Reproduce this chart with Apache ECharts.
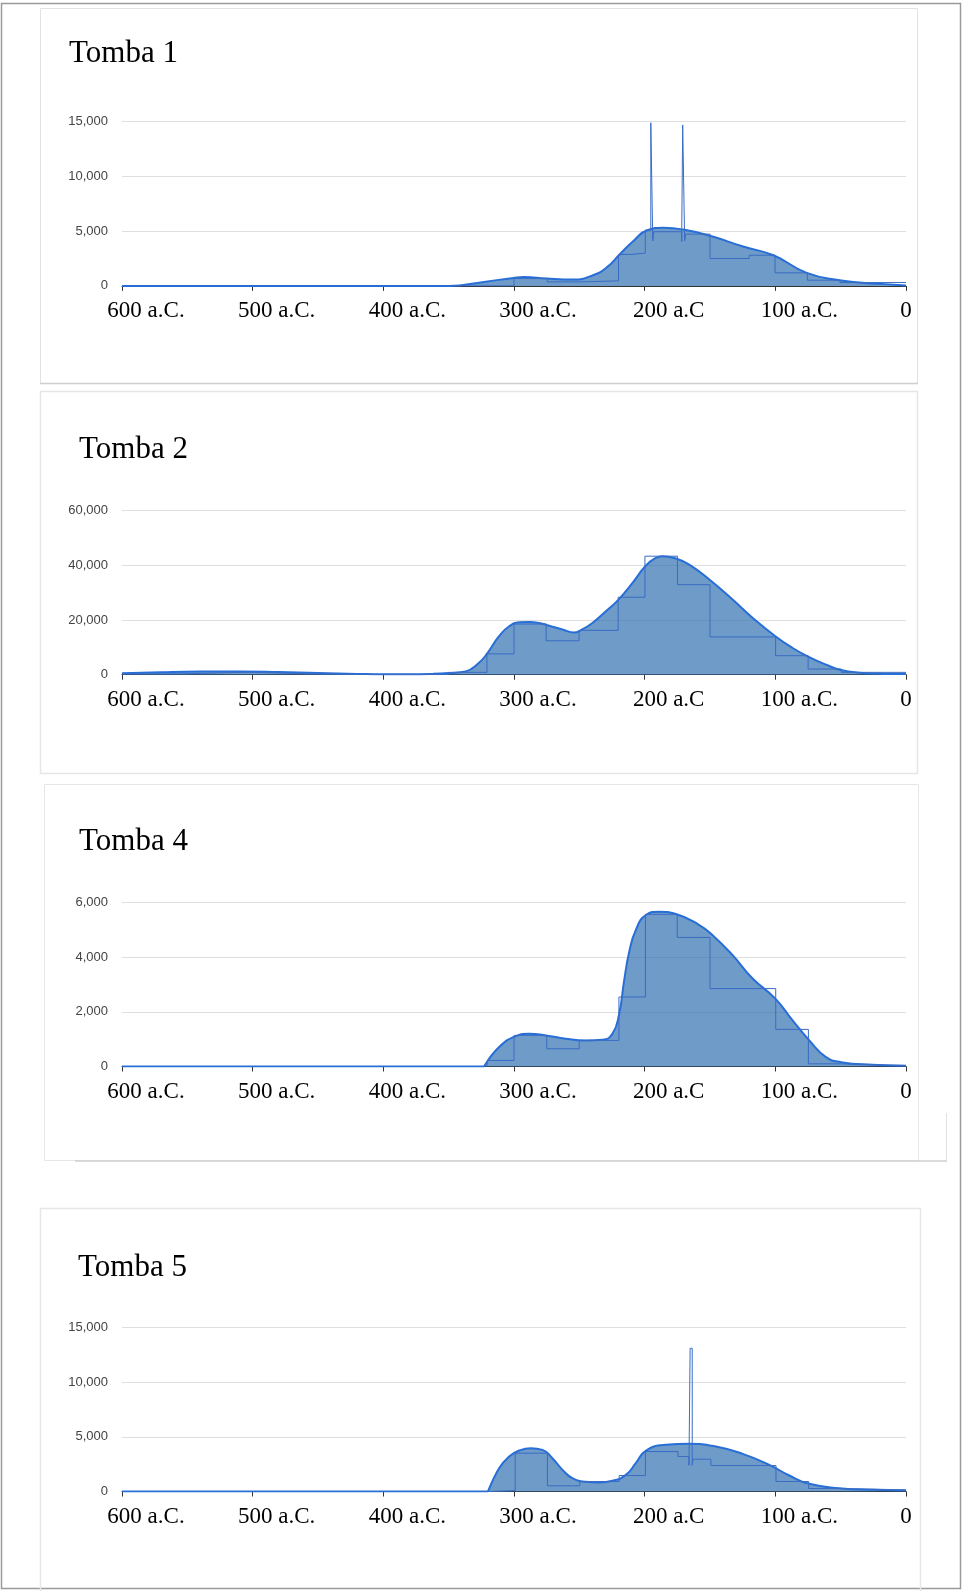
<!DOCTYPE html>
<html><head><meta charset="utf-8">
<script src="https://cdn.jsdelivr.net/npm/echarts@6/dist/echarts.min.js"></script>
<style>html,body{margin:0;padding:0;background:#fff;}#c{width:963px;height:1591px;}</style>
</head><body><div id="c"></div>
<script>
// ---------- data ----------
const titles = ['Tomba 1', 'Tomba 2', 'Tomba 4', 'Tomba 5'];
const xTickLabels = ['600 a.C.', '500 a.C.', '400 a.C.', '300 a.C.', '200 a.C', '100 a.C.', '0'];
const yMaxes = [15000, 60000, 6000, 15000];
const yIntervals = [5000, 20000, 2000, 5000];

// [year, value] — smooth density curves
const tomba1Curve = [[-600,0],[-355,0],[-350,0],[-323,366],[-300.5,732],[-292.5,820],[-275,670],[-254.5,580],[-239.5,976],[-228.5,1740],[-218.5,2960],[-208,4180],[-198,5090],[-185.5,5310],[-170.5,5150],[-150,4580],[-124,3570],[-101.5,2800],[-76,1190],[-51,520],[-25,210],[0,40]];
const tomba2Curve = [[-600,500],[-570,900],[-540,1150],[-510,1200],[-480,1000],[-450,650],[-420,300],[-400,150],[-380,150],[-362,300],[-350,610],[-337,1220],[-327,4270],[-320.3,7900],[-311.6,14000],[-303.7,17700],[-296,19150],[-288.3,19300],[-280.7,18900],[-273,17900],[-262.9,16500],[-254,15400],[-248.7,16300],[-240,18900],[-229.7,23200],[-220,27450],[-209.3,33550],[-199,39900],[-191.4,42700],[-186.4,43300],[-176.1,42450],[-165.9,40250],[-150.5,34770],[-132.7,27450],[-117.3,20740],[-100,14030],[-86.8,9760],[-75.3,6710],[-61.2,3660],[-49.7,1710],[-35.7,730],[-17.9,300],[0,250]];
const tomba4Curve = [[-600,0],[-323,0],[-322.8,0],[-311.4,709],[-298.6,1112],[-288.5,1200],[-275.7,1136],[-260.3,1014],[-245,953],[-232.2,978],[-224.6,1200],[-219.5,1930],[-215.7,3150],[-211.8,4190],[-206.8,4985],[-199,5536],[-188.9,5658],[-176.1,5572],[-158.2,5170],[-148,4800],[-132.7,4069],[-117.4,3214],[-100,2480],[-86.8,1686],[-74,953],[-61.2,342],[-49.7,159],[-25.5,61],[0,24]];
const tomba5Curve = [[-600,0],[-319.9,0],[-319.7,0],[-311.4,2130],[-303.7,3195],[-296.1,3743],[-287.1,3956],[-278.2,3804],[-270.6,3043],[-262.9,1978],[-255.3,1217],[-245,882],[-234.8,821],[-224.6,974],[-214.4,1521],[-206.8,2587],[-199,3743],[-183.7,4260],[-165.9,4351],[-145.5,4108],[-125,3439],[-104.6,2434],[-89.3,1461],[-74,700],[-51,304],[-25.5,152],[0,91]];

// [start year, level] — stepped histograms
const tomba1Steps = [[-350,0],[-300,670],[-274.5,366],[-249,460],[-220,2870],[-210.5,3000],[-199.5,5100],[-195.3,14900],[-193.8,4100],[-193,4950],[-171.7,4050],[-170.9,14700],[-169.4,4100],[-168.6,4730],[-150,2500],[-120,2800],[-100.2,1190],[-75.5,520],[-50.5,305],[0,305]];
const tomba2Steps = [[-600,300],[-555,900],[-505,300],[-455,100],[-405,100],[-350,850],[-320.7,7600],[-300,18500],[-275.4,12400],[-250.2,16200],[-220.3,28300],[-199.8,43300],[-174.9,32900],[-150,13800],[-99.8,6950],[-74.9,2070],[-49.5,850],[0,850]];
const tomba4Steps = [[-320.7,0],[-320.3,220],[-300,1136],[-274.9,648],[-250.1,953],[-219.7,2540],[-199.4,5560],[-175.1,4717],[-150,2847],[-99.7,1356],[-74.7,98],[-49.7,37],[0,37]];
const tomba5Steps = [[-319.7,0],[-319.5,91],[-299.1,3500],[-274.4,517],[-249.6,913],[-219.5,1460],[-199.4,3650],[-174.5,3195],[-166.1,2400],[-165.2,13085],[-163.6,2400],[-163,2950],[-149.3,2373],[-99.5,913],[-74.5,274],[-49.7,152],[0,152]];

const curves = [tomba1Curve, tomba2Curve, tomba4Curve, tomba5Curve];
const steps = [tomba1Steps, tomba2Steps, tomba4Steps, tomba5Steps];

// ---------- layout ----------
const gridTops = [121.7, 510.5, 902.3, 1327.3];
const gridH = 164.2;
const titleTops = [33, 429, 821, 1247];
const titleLefts = [64, 74, 74, 73];

const chart = echarts.init(document.getElementById('c'), null, {renderer: 'canvas'});

const serif = '"Liberation Serif", "Times New Roman", serif';
const sans = '"Liberation Sans", Arial, sans-serif';

const option = {
  backgroundColor: '#fff',
  animation: false,
  title: titles.map((t, i) => ({
    text: t, left: titleLefts[i], top: titleTops[i],
    textStyle: {fontFamily: serif, fontSize: 31, fontWeight: 'normal', color: '#000'}
  })),
  grid: gridTops.map(t => ({left: 122, width: 784, top: t, height: gridH})),
  xAxis: gridTops.map((t, i) => ({
    type: 'value', gridIndex: i, min: -600, max: 0, interval: 100,
    splitLine: {show: false},
    axisLine: {show: true, lineStyle: {color: '#333', width: 1}},
    axisTick: {show: true, length: 5, lineStyle: {color: '#333'}},
    axisLabel: {
      show: true, margin: 14, align: 'center',
      formatter: v => {
        const idx = Math.round((v + 600) / 100);
        const s = xTickLabels[idx];
        return v === 0 ? '{z|' + s + '}' : '{l|' + s + '}';
      },
      rich: {
        l: {fontFamily: serif, fontSize: 23, color: '#000', padding: [0, 0, 0, 48]},
        z: {fontFamily: serif, fontSize: 23, color: '#000'}
      }
    }
  })),
  yAxis: gridTops.map((t, i) => ({
    type: 'value', gridIndex: i, min: 0, max: yMaxes[i], interval: yIntervals[i],
    axisLine: {show: false}, axisTick: {show: false},
    splitLine: {show: true, lineStyle: {color: '#dedede', width: 1}},
    axisLabel: {
      margin: 14, fontFamily: sans, fontSize: 13, color: '#444',
      formatter: v => v.toLocaleString('en-US')
    }
  })),
  series: [].concat(
    curves.map((d, i) => ({
      type: 'line', xAxisIndex: i, yAxisIndex: i, data: d,
      smooth: 0.5, showSymbol: false, z: 3,
      lineStyle: {color: '#286ed7', width: 2},
      areaStyle: {color: '#3070b0', opacity: 0.7}
    })),
    steps.map((d, i) => ({
      type: 'line', xAxisIndex: i, yAxisIndex: i, data: d,
      step: 'end', showSymbol: false, z: 4,
      lineStyle: {color: '#3a6cc4', width: 1}
    }))
  ),
  graphic: [
    {type: 'rect', shape: {x: 1.5, y: 3.5, width: 959, height: 1585}, style: {fill: 'none', stroke: '#9a9a9a', lineWidth: 1.5}, silent: true},
    {type: 'rect', shape: {x: 40.5, y: 8.5, width: 877, height: 375}, style: {fill: 'none', stroke: '#e2e2e2', lineWidth: 1}, silent: true},
    {type: 'line', shape: {x1: 40, y1: 383.5, x2: 918, y2: 383.5}, style: {stroke: '#cfcfcf', lineWidth: 1.5}, silent: true},
    {type: 'rect', shape: {x: 40.5, y: 391.5, width: 877, height: 382}, style: {fill: 'none', stroke: '#e6e6e6', lineWidth: 1.5}, silent: true},
    {type: 'rect', shape: {x: 44.5, y: 784.5, width: 874, height: 376}, style: {fill: 'none', stroke: '#e6e6e6', lineWidth: 1}, silent: true},
    {type: 'line', shape: {x1: 75, y1: 1161, x2: 947, y2: 1161}, style: {stroke: '#cfcfcf', lineWidth: 1.5}, silent: true},
    {type: 'line', shape: {x1: 946.5, y1: 1113, x2: 946.5, y2: 1161}, style: {stroke: '#e0e0e0', lineWidth: 1}, silent: true},
    {type: 'rect', shape: {x: 40.5, y: 1208.5, width: 880, height: 390}, style: {fill: 'none', stroke: '#e6e6e6', lineWidth: 1.5}, silent: true}
  ]
};
chart.setOption(option);
</script>
</body></html>
